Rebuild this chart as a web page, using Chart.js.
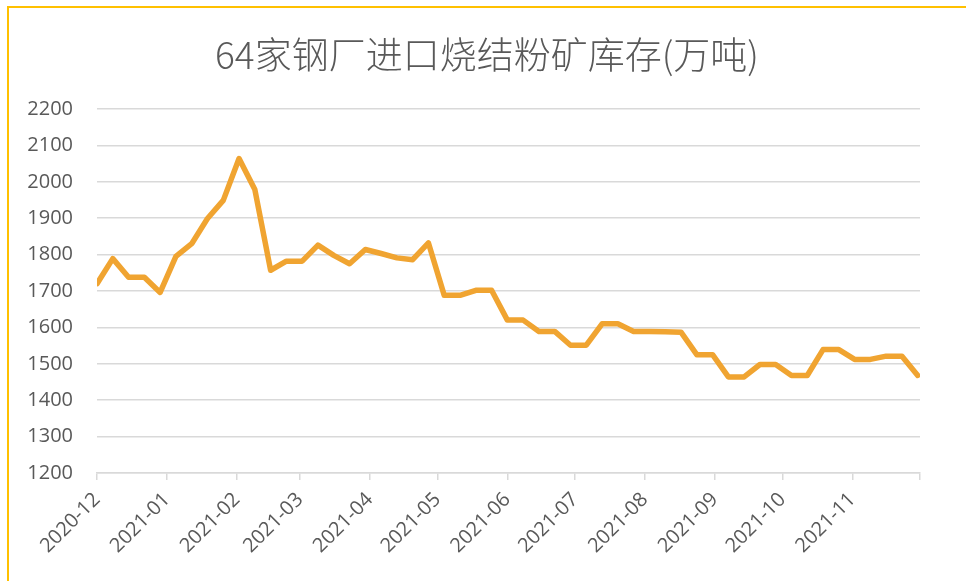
<!DOCTYPE html>
<html>
<head>
<meta charset="utf-8">
<script src="https://cdn.jsdelivr.net/npm/chart.js@4"></script>
<style>
  html, body { margin: 0; padding: 0; background: #fff; }
  canvas { display: block; }
</style>
</head>
<body>
<canvas id="grafico" width="966" height="581"></canvas>
<script>
// weekly dates and stock (10k tonnes)
const fechas = [
  '2020-12-04', '2020-12-11', '2020-12-18', '2020-12-25',
  '2021-01-01', '2021-01-08', '2021-01-15', '2021-01-22', '2021-01-29',
  '2021-02-05', '2021-02-12', '2021-02-19', '2021-02-26',
  '2021-03-05', '2021-03-12', '2021-03-19', '2021-03-26',
  '2021-04-02', '2021-04-09', '2021-04-16', '2021-04-23', '2021-04-30',
  '2021-05-07', '2021-05-14', '2021-05-21', '2021-05-28',
  '2021-06-04', '2021-06-11', '2021-06-18', '2021-06-25',
  '2021-07-02', '2021-07-09', '2021-07-16', '2021-07-23', '2021-07-30',
  '2021-08-06', '2021-08-13', '2021-08-20', '2021-08-27',
  '2021-09-03', '2021-09-10', '2021-09-17', '2021-09-24',
  '2021-10-01', '2021-10-08', '2021-10-15', '2021-10-22', '2021-10-29',
  '2021-11-05', '2021-11-12', '2021-11-19', '2021-11-26',
  '2021-12-03'
];
const inventario = [
  1720, 1789, 1738, 1738,
  1696, 1795, 1830, 1899, 1949,
  2064, 1979, 1757, 1782,
  1782, 1826, 1798, 1775,
  1814, 1803, 1791, 1786, 1832,
  1688, 1688, 1702, 1702,
  1620, 1620, 1589, 1589,
  1551, 1551, 1610, 1610, 1589,
  1589, 1588, 1587, 1525,
  1525, 1464, 1464, 1498,
  1498, 1468, 1468, 1539, 1539,
  1512, 1512, 1521, 1521,
  1468
];
// month ticks on the date axis
const fechasTicks = [
  '2020-12-04', '2021-01-04', '2021-02-04', '2021-03-04', '2021-04-04', '2021-05-04',
  '2021-06-04', '2021-07-04', '2021-08-04', '2021-09-04', '2021-10-04', '2021-11-04',
  '2021-12-04'
];
const etiquetasTicks = [
  '2020-12', '2021-01', '2021-02', '2021-03', '2021-04', '2021-05',
  '2021-06', '2021-07', '2021-08', '2021-09', '2021-10', '2021-11', ''
];
const ticksY = [1200, 1300, 1400, 1500, 1600, 1700, 1800, 1900, 2000, 2100, 2200];
const titulo = '64家钢厂进口烧结粉矿库存(万吨)';

const inicio = Date.parse(fechas[0]);
const dias = s => (Date.parse(s) - inicio) / 86400000;

const puntos = fechas.map((f, i) => ({ x: dias(f), y: inventario[i] }));
const diasTicks = fechasTicks.map(dias);

const gris = '#D9D9D9';
const texto = '#595959';
const fuente = "'Open Sans', 'Noto Sans', sans-serif";

// white background, gold frame and the title
const fondoYMarco = {
  id: 'fondoYMarco',
  beforeDraw(chart) {
    const c = chart.ctx;
    c.save();
    c.fillStyle = '#fff';
    c.fillRect(0, 0, chart.width, chart.height);
    c.restore();
  },
  afterDraw(chart) {
    const c = chart.ctx;
    c.save();
    c.fillStyle = texto;
    c.font = "300 37px 'Noto Sans CJK SC', 'Open Sans', sans-serif";
    c.textAlign = 'center';
    c.textBaseline = 'middle';
    c.fillText(titulo, 487, 55);
    c.strokeStyle = '#FFC000';
    c.lineWidth = 2;
    c.beginPath();
    c.moveTo(8, chart.height);
    c.lineTo(8, 7);
    c.lineTo(chart.width, 7);
    c.stroke();
    c.restore();
  }
};

const ctx = document.getElementById('grafico').getContext('2d');
const grafico = new Chart(ctx, {
  type: 'line',
  data: {
    datasets: [{
      data: puntos,
      borderColor: '#F0A431',
      borderWidth: 5.5,
      pointRadius: 0,
      tension: 0,
      borderJoinStyle: 'round',
      borderCapStyle: 'round'
    }]
  },
  options: {
    responsive: false,
    animation: false,
    layout: { padding: { left: 0, right: 46, top: 109, bottom: 0 } },
    plugins: {
      legend: { display: false },
      tooltip: { enabled: false },
      title: { display: false }
    },
    scales: {
      x: {
        type: 'linear',
        min: 0,
        max: diasTicks[diasTicks.length - 1],
        afterBuildTicks(scale) {
          scale.ticks = diasTicks.map(v => ({ value: v }));
        },
        afterFit(scale) {
          scale.height = 108;
          scale.paddingLeft = 0;
          scale.paddingRight = 0;
        },
        ticks: {
          autoSkip: false,
          minRotation: 45,
          maxRotation: 45,
          padding: 8,
          color: texto,
          font: { family: fuente, size: 20 },
          callback: (v, i) => etiquetasTicks[i]
        },
        grid: {
          drawOnChartArea: false,
          drawTicks: true,
          tickLength: 7,
          color: gris,
          lineWidth: 1.5
        },
        border: { display: true, color: gris, width: 1.5 }
      },
      y: {
        min: 1200,
        max: 2200,
        afterBuildTicks(scale) {
          scale.ticks = ticksY.map(v => ({ value: v }));
        },
        afterFit(scale) {
          scale.width = 97;
          scale.paddingTop = 0;
          scale.paddingBottom = 0;
        },
        ticks: {
          padding: 24,
          color: texto,
          font: { family: fuente, size: 20 },
          callback: v => String(v)
        },
        grid: {
          drawTicks: false,
          color: gris,
          lineWidth: 1.5
        },
        border: { display: false }
      }
    }
  },
  plugins: [fondoYMarco]
});
</script>
</body>
</html>
